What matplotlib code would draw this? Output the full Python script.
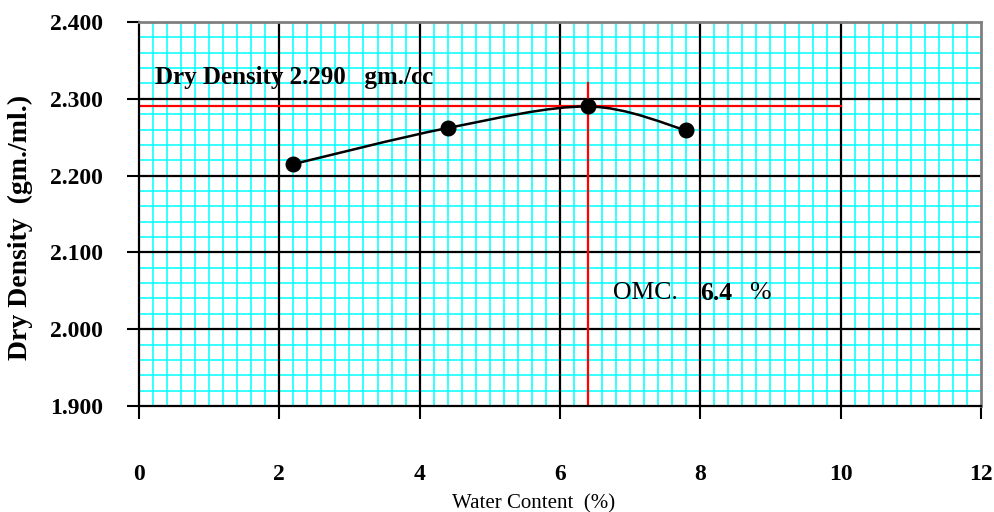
import numpy as np
import matplotlib.pyplot as plt
from matplotlib.path import Path
from matplotlib.patches import PathPatch
from matplotlib.ticker import MultipleLocator

#### data
water = [2.2, 4.4, 6.4, 7.8]
density = [2.215, 2.262, 2.290, 2.259]
omc = 6.4
mdd = 2.290
x_ticks = [0, 2, 4, 6, 8, 10, 12]
y_ticks = [1.9, 2.0, 2.1, 2.2, 2.3, 2.4]
####

plt.rcParams['font.family'] = ['Liberation Serif', 'DejaVu Serif']


def smooth_path(xs, ys, t=1/6):
    # Catmull-Rom style bezier through the points (like a spreadsheet "smoothed line")
    pts = np.column_stack([xs, ys])
    verts = [pts[0]]
    codes = [Path.MOVETO]
    n = len(pts)
    for i in range(n - 1):
        p0 = pts[max(i - 1, 0)]
        p1 = pts[i]
        p2 = pts[i + 1]
        p3 = pts[min(i + 2, n - 1)]
        c1 = p1 + (p2 - p0) * t
        c2 = p2 - (p3 - p1) * t
        verts += [c1, c2, p2]
        codes += [Path.CURVE4] * 3
    return Path(verts, codes)


fig = plt.figure(figsize=(9.94, 5.12), dpi=100)
ax = fig.add_axes([0.1398, 0.207, 0.8471, 0.750])
ax.set_axisbelow(True)
ax.set_xlim(x_ticks[0], x_ticks[-1])
ax.set_ylim(y_ticks[0], y_ticks[-1])
ax.set_xticks(x_ticks)
ax.set_yticks(y_ticks)
ax.set_yticklabels(["%.3f" % v for v in y_ticks])
ax.xaxis.set_minor_locator(MultipleLocator(0.2))
ax.yaxis.set_minor_locator(MultipleLocator(0.02))
ax.grid(which='minor', color='#00FFFF', lw=1.1)
for v in x_ticks[1:-1]:
    ax.axvline(v, color='black', lw=1.6, zorder=1)
for v in y_ticks[1:-1]:
    ax.axhline(v, color='black', lw=1.6, zorder=1)

ax.tick_params(which='minor', length=0)
ax.tick_params(which='major', direction='out', length=9, width=1.5, color='black')
ax.tick_params(axis='y', pad=17, labelsize=17)
ax.tick_params(axis='x', pad=33, labelsize=17)
for lab in ax.get_xticklabels() + ax.get_yticklabels():
    lab.set_fontweight('bold')

for s in ['left', 'bottom']:
    ax.spines[s].set_color('black')
    ax.spines[s].set_linewidth(1.6)
for s in ['top', 'right']:
    ax.spines[s].set_color('#808080')
    ax.spines[s].set_linewidth(2)

# optimum lines
ax.plot([0, 10], [mdd, mdd], color='red', lw=1.6, zorder=2)
ax.plot([omc, omc], [1.9, 2.32], color='red', lw=1.6, zorder=2)

# compaction curve
ax.add_patch(PathPatch(smooth_path(water, density), facecolor='none',
                       edgecolor='black', lw=1.8, zorder=3))
ax.plot(water, density, 'o', color='black', markersize=10.5, zorder=4)

ax.text(0.23, 2.328, "Dry Density %.3f   gm./cc" % mdd, fontsize=18,
        fontweight='bold', va='center', ha='left', zorder=5)
ax.text(6.75, 2.047, "OMC.", fontsize=18.5, va='center', ha='left', zorder=5)
ax.text(8.0, 2.047, "%.1f" % omc, fontsize=18.5, fontweight='bold',
        va='center', ha='left', zorder=5)
ax.text(8.70, 2.047, "%", fontsize=18.5, va='center', ha='left', zorder=5)

ax.set_ylabel("Dry Density  (gm./ml.)", fontsize=20, fontweight='bold')
ax.yaxis.set_label_coords(-0.126, 0.466)
ax.set_xlabel("Water Content  (%)", fontsize=15, )
ax.xaxis.set_label_coords(0.469, -0.229)

plt.savefig("out.png", dpi=100)
